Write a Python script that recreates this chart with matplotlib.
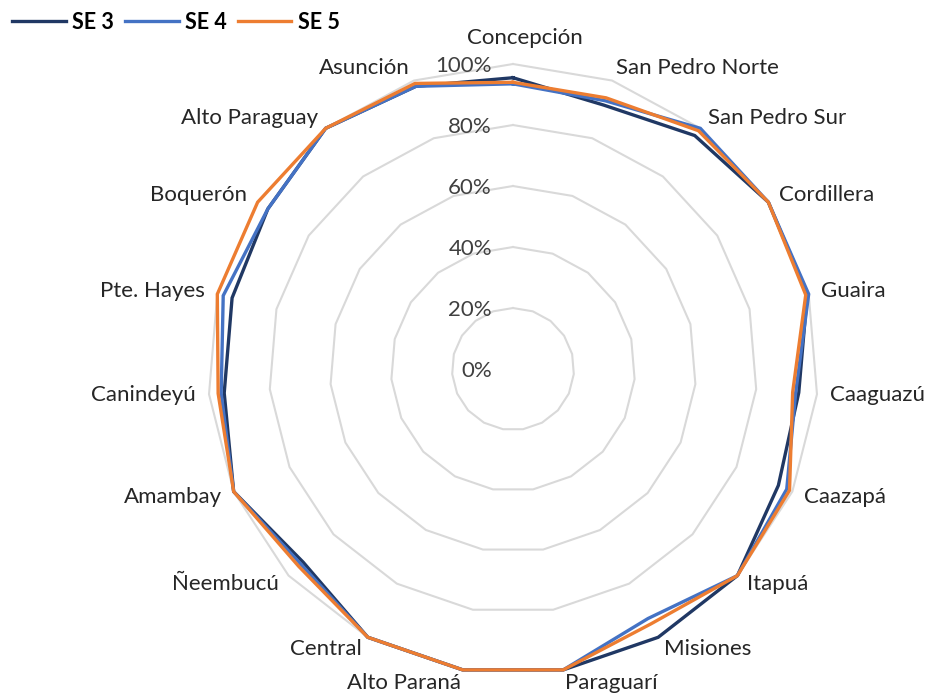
import numpy as np
import matplotlib
matplotlib.use("Agg")
import matplotlib.pyplot as plt
from matplotlib.transforms import offset_copy

plt.rcParams['font.family'] = ['Lato', 'DejaVu Sans']

categories = ['Concepción', 'San Pedro Norte', 'San Pedro Sur', 'Cordillera', 'Guaira',
              'Caaguazú', 'Caazapá', 'Itapuá', 'Misiones', 'Paraguarí', 'Alto Paraná',
              'Central', 'Ñeembucú', 'Amambay', 'Canindeyú', 'Pte. Hayes', 'Boquerón',
              'Alto Paraguay', 'Asunción']
se3 = [95.5, 91.5, 97, 100, 99.5, 94, 95, 100, 100, 100, 100, 100, 93.5, 100, 95, 95, 96, 100, 98]
se4 = [93.5, 93, 100, 100, 100, 93, 98, 100, 93, 100, 100, 100, 94.5, 100, 96, 98, 96, 100, 98]
se5 = [94, 94, 99, 100, 99, 92, 99, 100, 95, 100, 100, 100, 95.5, 100, 97, 100, 100, 100, 99]
series = [('SE 3', se3, '#203864'), ('SE 4', se4, '#4472C4'), ('SE 5', se5, '#ED7D31')]
rings = [0, 20, 40, 60, 80, 100]

n = len(categories)
theta = np.arange(n) * 2 * np.pi / n
theta_c = np.append(theta, theta[0])

fig = plt.figure(figsize=(9.28, 6.98), dpi=100)
ax = fig.add_axes([0.2241, 0.0343, 0.6574, 0.874], projection='polar')
ax.set_theta_zero_location('N')
ax.set_theta_direction(-1)
ax.set_ylim(0, 100)
ax.grid(False)
ax.set_xticks([])
ax.set_yticks([])
ax.spines['polar'].set_visible(False)
ax.patch.set_alpha(0)

# polygon gridlines
for r in rings[1:]:
    ax.plot(theta_c, [r] * (n + 1), color='#d9d9d9', lw=1.5, zorder=1, clip_on=False)

for name, vals, col in series:
    v = np.append(vals, vals[0])
    ax.plot(theta_c, v, color=col, lw=2.4, label=name, zorder=3, clip_on=False,
            solid_joinstyle='miter')

# radial labels
for r in rings:
    tr = offset_copy(ax.transData, fig=fig, x=-21, y=-2, units='dots')
    ax.text(0, r, f'{r}%', transform=tr, ha='right', va='center', fontsize=16,
            color='#404040', zorder=4)

# category labels
for t, lab in zip(theta, categories):
    dx, dy = np.sin(t), np.cos(t)
    if abs(dx) < 0.05:
        ha = 'center'
        va = 'bottom' if dy > 0 else 'top'
        ox, oy = 12, 16 * np.sign(dy)
    else:
        ha = 'left' if dx > 0 else 'right'
        va = 'center'
        ox, oy = 13 * dx, 13 * dy
    tr = offset_copy(ax.transData, fig=fig, x=ox, y=oy, units='dots')
    ax.text(t, 100, lab, transform=tr, ha=ha, va=va, fontsize=16, color='#262626')

fig.legend(loc='upper left', bbox_to_anchor=(0.0, 1.0), ncol=3, frameon=False,
           prop={'weight': 'bold', 'size': 15.5}, handlelength=2.5, handletextpad=0.3,
           columnspacing=0.5, borderaxespad=0.15)

fig.savefig('out.png', dpi=100)
